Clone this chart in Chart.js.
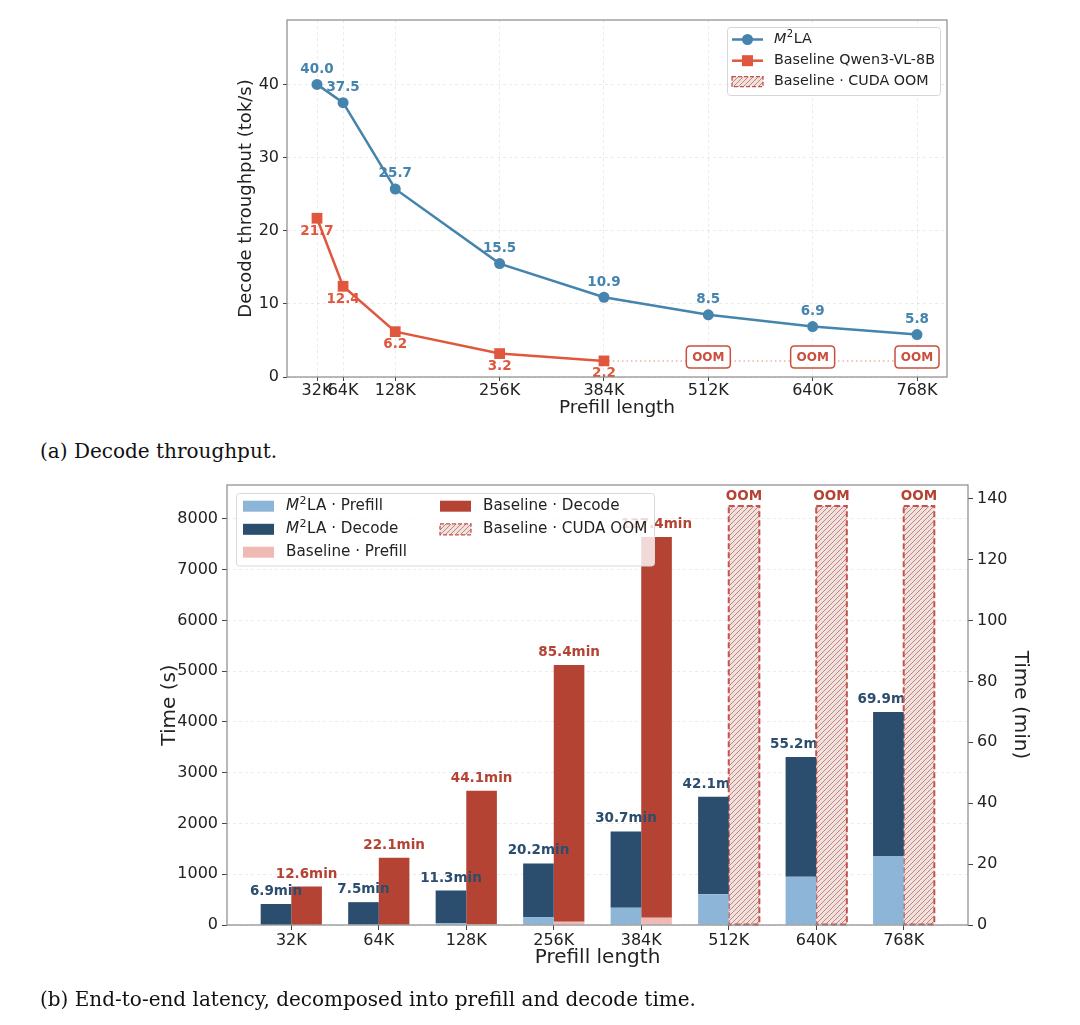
<!DOCTYPE html>
<html><head><meta charset="utf-8">
<script src="https://cdn.jsdelivr.net/npm/chart.js@4.4.1/dist/chart.umd.min.js"></script>
<style>
html,body{margin:0;padding:0;background:#fff;width:1080px;height:1025px;overflow:hidden;}
body{position:relative;}
#w1{position:absolute;left:0;top:0;width:1080px;height:430px;}
#w2{position:absolute;left:0;top:470px;width:1080px;height:520px;}
.cap{position:absolute;left:40px;font-family:"DejaVu Serif",serif;font-size:20px;color:#111;white-space:nowrap;}
</style></head><body>
<div id="w1"><canvas id="c1"></canvas></div>
<div class="cap" style="top:439px">(a) Decode throughput.</div>
<div id="w2"><canvas id="c2"></canvas></div>
<div class="cap" style="top:987px">(b) End-to-end latency, decomposed into prefill and decode time.</div>
<script>
// ---------- data ----------
const prefillLabels = ['32K','64K','128K','256K','384K','512K','640K','768K'];
const prefillK = [32, 64, 128, 256, 384, 512, 640, 768];
const m2laThroughput = [40.0, 37.5, 25.7, 15.5, 10.9, 8.5, 6.9, 5.8];
const baselineThroughput = [21.7, 12.4, 6.2, 3.2, 2.2, null, null, null];
const oomLevel = [null, null, null, null, 2.2, 2.2, 2.2, 2.2];
const baselineOOM = [false, false, false, false, false, true, true, true];
const throughputTicks = [0, 10, 20, 30, 40];

const m2laPrefillSec = [3, 10, 38, 155, 340, 605, 950, 1360];
const m2laDecodeSec = [411, 440, 640, 1057, 1502, 1921, 2362, 2834];
const baselinePrefillSec = [1, 4, 16, 65, 144, null, null, null];
const baselineDecodeSec = [755, 1322, 2630, 5059, 7500, null, null, null];
const oomBarSec = [null, null, null, null, null, 8255, 8255, 8255];
const timeSecTicks = [0, 1000, 2000, 3000, 4000, 5000, 6000, 7000, 8000];
const timeMinTicks = [0, 20, 40, 60, 80, 100, 120, 140];

// ---------- style ----------
const FONT = '"DejaVu Sans", sans-serif';
const BLUE = '#4584ad', RED = '#e0573e';
const LBLUE = '#8cb5d8', NAVY = '#2b4d6e', PINK = '#efbab4', DRED = '#b44334', OOMRED = '#c4534a';
const FRAME = '#8a8a8a', TICKC = '#444', GRIDC = 'rgba(0,0,0,0.08)';
Chart.defaults.font.family = FONT;
Chart.defaults.color = '#222';

function makeHatch() {
  const s = 5, c = document.createElement('canvas'); c.width = s; c.height = s;
  const g = c.getContext('2d');
  g.fillStyle = '#ece3e1'; g.fillRect(0, 0, s, s);
  g.strokeStyle = 'rgba(200,95,85,0.85)'; g.lineWidth = 0.9;
  g.beginPath();
  g.moveTo(0, s); g.lineTo(s, 0);
  g.moveTo(-s, s); g.lineTo(s, -s);
  g.moveTo(0, 2 * s); g.lineTo(2 * s, 0);
  g.stroke();
  return g.createPattern(c, 'repeat');
}
const HATCH = makeHatch();

function rrect(ctx, x, y, w, h, r) {
  ctx.beginPath();
  ctx.moveTo(x + r, y); ctx.lineTo(x + w - r, y); ctx.quadraticCurveTo(x + w, y, x + w, y + r);
  ctx.lineTo(x + w, y + h - r); ctx.quadraticCurveTo(x + w, y + h, x + w - r, y + h);
  ctx.lineTo(x + r, y + h); ctx.quadraticCurveTo(x, y + h, x, y + h - r);
  ctx.lineTo(x, y + r); ctx.quadraticCurveTo(x, y, x + r, y); ctx.closePath();
}
function drawM2LA(ctx, x, y, size, suffix) {
  ctx.textAlign = 'left'; ctx.textBaseline = 'middle'; ctx.fillStyle = '#222';
  ctx.font = `italic ${size}px ${FONT}`;
  ctx.fillText('M', x, y);
  let w = ctx.measureText('M').width + 0.5;
  ctx.font = `${Math.round(size * 0.7)}px ${FONT}`;
  ctx.fillText('2', x + w, y - size * 0.36);
  w += ctx.measureText('2').width + 0.5;
  ctx.font = `${size}px ${FONT}`;
  ctx.fillText('LA' + suffix, x + w, y);
}
function hatchPatch(ctx, x, y, w, h) {
  ctx.fillStyle = HATCH; ctx.fillRect(x, y, w, h);
  ctx.setLineDash([4, 2]); ctx.strokeStyle = OOMRED; ctx.lineWidth = 1.3;
  ctx.strokeRect(x, y, w, h); ctx.setLineDash([]);
}
function frame(chart) {
  const a = chart.chartArea, ctx = chart.ctx;
  ctx.save(); ctx.strokeStyle = FRAME; ctx.lineWidth = 1.2;
  ctx.strokeRect(a.left, a.top, a.right - a.left, a.bottom - a.top); ctx.restore();
}

// ---------- chart (a) ----------
const topPlugin = {
  id: 'topDecor',
  afterDatasetsDraw(chart) {
    const ctx = chart.ctx;
    const m0 = chart.getDatasetMeta(0), m1 = chart.getDatasetMeta(1), m2 = chart.getDatasetMeta(2);
    ctx.save();
    ctx.textAlign = 'center'; ctx.textBaseline = 'middle';
    ctx.font = `bold 13.5px ${FONT}`;
    ctx.fillStyle = BLUE;
    m0.data.forEach((el, i) => ctx.fillText(m2laThroughput[i].toFixed(1), el.x, el.y - 15));
    ctx.fillStyle = RED;
    m1.data.forEach((el, i) => { if (baselineThroughput[i] != null) ctx.fillText(baselineThroughput[i].toFixed(1), el.x, el.y + 13); });
    m2.data.forEach((el, i) => {
      if (!baselineOOM[i]) return;
      const w = 44, h = 22, cy = el.y - 4;
      rrect(ctx, el.x - w / 2, cy - h / 2, w, h, 4);
      ctx.fillStyle = '#fff'; ctx.fill();
      ctx.strokeStyle = '#c9503d'; ctx.lineWidth = 1.5; ctx.stroke();
      ctx.fillStyle = '#c9503d'; ctx.font = `bold 12px ${FONT}`;
      ctx.fillText('OOM', el.x, cy + 0.5);
    });
    ctx.restore();
  },
  afterDraw(chart) {
    frame(chart);
    const ctx = chart.ctx;
    ctx.save();
    rrect(ctx, 727.5, 27.5, 213, 68, 3);
    ctx.fillStyle = 'rgba(255,255,255,0.85)'; ctx.fill();
    ctx.strokeStyle = '#d6d6d6'; ctx.lineWidth = 1; ctx.stroke();
    const rows = [39.5, 60.7, 81.7];
    ctx.strokeStyle = BLUE; ctx.lineWidth = 2.5;
    ctx.beginPath(); ctx.moveTo(732, rows[0]); ctx.lineTo(763, rows[0]); ctx.stroke();
    ctx.fillStyle = BLUE; ctx.beginPath(); ctx.arc(747.5, rows[0], 5.5, 0, Math.PI * 2); ctx.fill();
    drawM2LA(ctx, 774, rows[0], 14.3, '');
    ctx.strokeStyle = RED; ctx.beginPath(); ctx.moveTo(732, rows[1]); ctx.lineTo(763, rows[1]); ctx.stroke();
    ctx.fillStyle = RED; ctx.fillRect(742, rows[1] - 5.5, 11, 11);
    ctx.fillStyle = '#222'; ctx.font = `14.3px ${FONT}`; ctx.textBaseline = 'middle'; ctx.textAlign = 'left';
    ctx.fillText('Baseline Qwen3-VL-8B', 774, rows[1]);
    hatchPatch(ctx, 732, rows[2] - 5, 31, 10);
    ctx.fillStyle = '#222'; ctx.font = `14.3px ${FONT}`;
    ctx.fillText('Baseline \u00b7 CUDA OOM', 774, rows[2]);
    ctx.restore();
  }
};

new Chart(document.getElementById('c1'), {
  type: 'line',
  data: {
    datasets: [
      { label: 'M2LA', data: prefillK.map((k, i) => ({ x: k, y: m2laThroughput[i] })),
        borderColor: BLUE, backgroundColor: BLUE, borderWidth: 2.5, pointStyle: 'circle',
        pointRadius: 5.5, pointBorderWidth: 0, tension: 0 },
      { label: 'Baseline Qwen3-VL-8B', data: prefillK.map((k, i) => ({ x: k, y: baselineThroughput[i] })),
        borderColor: RED, backgroundColor: RED, borderWidth: 2.5, pointStyle: 'rect',
        pointRadius: 7.6, pointBorderWidth: 0, tension: 0, spanGaps: false },
      { label: 'OOM', data: prefillK.map((k, i) => ({ x: k, y: oomLevel[i] })),
        borderColor: 'rgba(230,110,90,0.55)', borderWidth: 1.5, borderDash: [1.5, 3],
        pointRadius: 0, tension: 0, order: 5 }
    ]
  },
  options: {
    responsive: true, maintainAspectRatio: false, animation: false,
    layout: { padding: { left: 232, right: 133, top: 20, bottom: 7 } },
    plugins: { legend: { display: false }, tooltip: { enabled: false } },
    scales: {
      x: {
        type: 'linear', min: -4.8, max: 804.8, bounds: 'data', offset: false,
        afterBuildTicks: ax => { ax.ticks = prefillK.map(v => ({ value: v })); },
        ticks: { autoSkip: false, maxRotation: 0, font: { size: 16 }, color: '#222', padding: 0,
          callback: v => prefillLabels[prefillK.indexOf(v)] },
        grid: { color: GRIDC, tickColor: TICKC, tickLength: 4, tickBorderDash: [] },
        border: { display: false, dash: [3, 3] },
        title: { display: true, text: 'Prefill length', font: { size: 18.5 }, color: '#222', padding: { top: 0, bottom: 4 } },
        afterFit: s => { s.height = 46; }
      },
      y: {
        min: 0, max: 48.8, bounds: 'data',
        afterBuildTicks: ax => { ax.ticks = throughputTicks.map(v => ({ value: v })); },
        ticks: { font: { size: 16 }, color: '#222', padding: 4, callback: v => String(v) },
        grid: { color: GRIDC, tickColor: TICKC, tickLength: 4, tickBorderDash: [] },
        border: { display: false, dash: [3, 3] },
        title: { display: true, text: 'Decode throughput (tok/s)', font: { size: 18 }, color: '#222', padding: { top: 4, bottom: 4 } },
        afterFit: s => { s.width = 55; }
      }
    }
  },
  plugins: [topPlugin]
});

// ---------- chart (b) ----------
const xy = arr => arr.map((v, i) => ({ x: i, y: v }));
const botPlugin = {
  id: 'botDecor',
  beforeDatasetDraw(chart, args) {
    if (args.index !== 4) return;
    const ctx = chart.ctx;
    ctx.save();
    ctx.textAlign = 'center'; ctx.textBaseline = 'middle'; ctx.font = `bold 13.5px ${FONT}`;
    const m1 = chart.getDatasetMeta(1), m3 = chart.getDatasetMeta(3);
    ctx.fillStyle = NAVY;
    m1.data.forEach((el, i) => {
      const tot = m2laPrefillSec[i] + m2laDecodeSec[i];
      ctx.fillText((tot / 60).toFixed(1) + 'min', el.x, el.y - 12.5);
    });
    ctx.fillStyle = DRED;
    m3.data.forEach((el, i) => {
      if (baselineDecodeSec[i] == null) return;
      const tot = baselinePrefillSec[i] + baselineDecodeSec[i];
      ctx.fillText((tot / 60).toFixed(1) + 'min', el.x, el.y - 12.5);
    });
    ctx.restore();
  },
  afterDatasetDraw(chart, args) {
    if (args.index !== 4) return;
    const ctx = chart.ctx;
    const m4 = chart.getDatasetMeta(4);
    ctx.save();
    m4.data.forEach((el, i) => {
      if (oomBarSec[i] == null) return;
      const p = el.getProps(['x', 'y', 'base', 'width'], true);
      ctx.setLineDash([6, 3]); ctx.strokeStyle = OOMRED; ctx.lineWidth = 2;
      ctx.strokeRect(p.x - p.width / 2, p.y, p.width, p.base - p.y);
      ctx.setLineDash([]);
      ctx.fillStyle = DRED; ctx.font = `bold 13.5px ${FONT}`; ctx.textAlign = 'center'; ctx.textBaseline = 'middle';
      ctx.fillText('OOM', p.x, p.y - 9.5);
    });
    ctx.restore();
  },
  afterDraw(chart) {
    frame(chart);
    const ctx = chart.ctx;
    ctx.save();
    rrect(ctx, 236.5, 23.5, 418, 72.5, 3);
    ctx.fillStyle = 'rgba(255,255,255,0.8)'; ctx.fill();
    ctx.strokeStyle = '#d9d9d9'; ctx.lineWidth = 1; ctx.stroke();
    const rows = [36.2, 59.3, 82.2];
    const pw = 31, ph = 11;
    ctx.fillStyle = LBLUE; ctx.fillRect(243, rows[0] - ph / 2, pw, ph);
    drawM2LA(ctx, 286, rows[0], 15.2, ' \u00b7 Prefill');
    ctx.fillStyle = NAVY; ctx.fillRect(243, rows[1] - ph / 2, pw, ph);
    drawM2LA(ctx, 286, rows[1], 15.2, ' \u00b7 Decode');
    ctx.fillStyle = PINK; ctx.fillRect(243, rows[2] - ph / 2, pw, ph);
    ctx.fillStyle = '#222'; ctx.font = `15.2px ${FONT}`; ctx.textAlign = 'left'; ctx.textBaseline = 'middle';
    ctx.fillText('Baseline \u00b7 Prefill', 286, rows[2]);
    ctx.fillStyle = DRED; ctx.fillRect(440, rows[0] - ph / 2, pw, ph);
    ctx.fillStyle = '#222'; ctx.fillText('Baseline \u00b7 Decode', 483, rows[0]);
    hatchPatch(ctx, 440, rows[1] - ph / 2, pw, ph);
    ctx.fillStyle = '#222'; ctx.font = `15.2px ${FONT}`;
    ctx.fillText('Baseline \u00b7 CUDA OOM', 483, rows[1]);
    ctx.restore();
  }
};

new Chart(document.getElementById('c2'), {
  type: 'bar',
  data: {
    datasets: [
      { label: 'M2LA · Prefill', data: xy(m2laPrefillSec), backgroundColor: LBLUE, stack: 'm2la', order: -3 },
      { label: 'M2LA · Decode', data: xy(m2laDecodeSec), backgroundColor: NAVY, stack: 'm2la', order: -3 },
      { label: 'Baseline · Prefill', data: xy(baselinePrefillSec), backgroundColor: PINK, stack: 'base', order: 0 },
      { label: 'Baseline · Decode', data: xy(baselineDecodeSec), backgroundColor: DRED, stack: 'base', order: 0 },
      { label: 'Baseline · CUDA OOM', data: xy(oomBarSec), backgroundColor: HATCH, stack: 'base', order: -2 }
    ]
  },
  options: {
    responsive: true, maintainAspectRatio: false, animation: false,
    datasets: { bar: { categoryPercentage: 0.7, barPercentage: 1.0, borderWidth: 0 } },
    layout: { padding: { left: 154, right: 44, top: 15, bottom: 16 } },
    plugins: { legend: { display: false }, tooltip: { enabled: false } },
    scales: {
      x: {
        type: 'linear', min: -0.735, max: 7.735, bounds: 'data', offset: false,
        afterBuildTicks: ax => { ax.ticks = prefillLabels.map((_, i) => ({ value: i })); },
        ticks: { autoSkip: false, maxRotation: 0, font: { size: 16 }, color: '#222', padding: 1,
          callback: v => prefillLabels[v] },
        grid: { drawOnChartArea: false, offset: false, tickColor: TICKC, tickLength: 5 },
        border: { display: false },
        title: { display: true, text: 'Prefill length', font: { size: 20 }, color: '#222', padding: { top: 0, bottom: 4 } },
        afterFit: s => { s.height = 49; }
      },
      y: {
        stacked: true, min: 0, max: 8668, bounds: 'data',
        afterBuildTicks: ax => { ax.ticks = timeSecTicks.map(v => ({ value: v })); },
        ticks: { font: { size: 16 }, color: '#222', padding: 4, callback: v => String(v) },
        grid: { color: GRIDC, tickColor: TICKC, tickLength: 5, tickBorderDash: [] },
        border: { display: false, dash: [3, 3] },
        title: { display: true, text: 'Time (s)', font: { size: 20 }, color: '#222', padding: { top: 4, bottom: 4 } },
        afterFit: s => { s.width = 73; }
      },
      y2: {
        display: true, position: 'right', min: 0, max: 8668 / 60, bounds: 'data',
        afterBuildTicks: ax => { ax.ticks = timeMinTicks.map(v => ({ value: v })); },
        ticks: { font: { size: 16 }, color: '#222', padding: 4, callback: v => String(v) },
        grid: { drawOnChartArea: false, tickColor: TICKC, tickLength: 5 },
        border: { display: false },
        title: { display: true, text: 'Time (min)', font: { size: 20 }, color: '#222', padding: { top: 4, bottom: 4 } },
        afterFit: s => { s.width = 68; }
      }
    }
  },
  plugins: [botPlugin]
});
</script>
</body></html>
